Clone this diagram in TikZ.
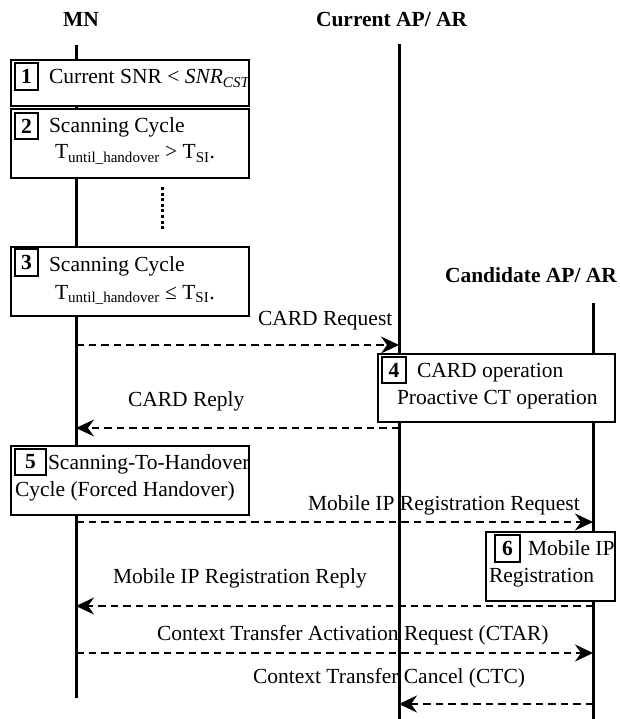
\documentclass[tikz,border=0pt]{standalone}
\usepackage{fontspec}
\setmainfont{Liberation Serif}
\usetikzlibrary{arrows.meta}
\begin{document}
\begin{tikzpicture}[x=1pt,y=-1pt,
  every node/.style={font=\fontsize{21.5}{25}\selectfont, inner sep=0pt, outer sep=0pt},
  head/.style={font=\fontsize{21.5}{25}\selectfont\bfseries, anchor=base west},
  txt/.style={anchor=base west},
  lifeline/.style={line width=3pt},
  msg/.style={line width=2pt, dash pattern=on 7.5pt off 5pt,
    -{Stealth[length=18pt,width=17pt,inset=6pt]}},
  stepbox/.style={draw, line width=1.3pt, fill=white},
  numbox/.style={draw, line width=1.6pt, fill=white,
    font=\fontsize{21.5}{25}\selectfont\bfseries},
]
\useasboundingbox (0,0) rectangle (620,719);

% entity headers
\node[head] (mn) at (63,27) {MN};
\node[head] (cur) at (316,27) {Current AP/ AR};
\node[head] (cand) at (445,282) {Candidate AP/ AR};

% message labels
\node[txt] (l1) at (258,325) {CARD Request};
\node[txt] (l2) at (128,406) {CARD Reply};
\node[txt] (l3) at (308,510) {Mobile IP Registration Request};
\node[txt] (l4) at (113,583) {Mobile IP Registration Reply};
\node[txt] (l5) at (157,640) {Context Transfer Activation Request (CTAR)};
\node[txt] (l6) at (253,683) {Context Transfer Cancel (CTC)};

% lifelines
\coordinate (mnTop) at (76,45);
\coordinate (mnBot) at (76,698);
\coordinate (curTop) at (399,44);
\coordinate (curBot) at (399,719);
\coordinate (candTop) at (593,303);
\coordinate (candBot) at (593,719);
\draw[lifeline] (mnTop) -- (mnBot);
\draw[lifeline] (curTop) -- (curBot);
\draw[lifeline] (candTop) -- (candBot);

% repeated scanning cycles
\coordinate (dotA) at (162,187);
\coordinate (dotB) at (162,230);
\draw[line width=3pt, dash pattern=on 3pt off 2.6pt] (dotA) -- (dotB);

% message end points
\coordinate (mnA) at (76,345);   \coordinate (curA) at (399,345);
\coordinate (mnB) at (76,428);   \coordinate (curB) at (399,428);
\coordinate (mnC) at (76,522);   \coordinate (candC) at (593,522);
\coordinate (mnD) at (76,606);   \coordinate (candD) at (593,606);
\coordinate (mnE) at (76,653);   \coordinate (candE) at (593,653);
\coordinate (curF) at (399,704); \coordinate (candF) at (593,704);

\draw[msg] (mnA) -- (curA);
\draw[msg] (curB) -- (mnB);
\draw[msg] (mnC) -- (candC);
\draw[msg] (candD) -- (mnD);
\draw[msg] (mnE) -- (candE);
\draw[msg] (candF) -- (curF);

% step 1
\node[stepbox, minimum width=238pt, minimum height=46pt] (b1) at (130,83) {};
\node[txt] (t1) at (49,84) {Current SNR < \textit{SNR\textsubscript{CST}}};
\draw[line width=1.3pt] (b1.north east) -- (b1.south east);
\node[numbox, minimum width=23pt, minimum height=27pt] (n1) at (26.5,76.5) {1};

% step 2
\node[stepbox, minimum width=238pt, minimum height=69pt] (b2) at (130,143.5) {};
\node[txt] (t2a) at (49,133) {Scanning Cycle};
\node[txt] (t2b) at (55,159) {T\textsubscript{until\_handover} > T\textsubscript{SI}.};
\node[numbox, minimum width=23pt, minimum height=26pt] (n2) at (26.5,126) {2};

% step 3
\node[stepbox, minimum width=238pt, minimum height=69pt] (b3) at (130,281.5) {};
\node[txt] (t3a) at (49,271) {Scanning Cycle};
\node[txt] (t3b) at (55,299) {T\textsubscript{until\_handover} ≤ T\textsubscript{SI}.};
\node[numbox, minimum width=23pt, minimum height=27pt] (n3) at (26.5,262.5) {3};

% step 4
\node[stepbox, minimum width=237pt, minimum height=68pt] (b4) at (496.5,388) {};
\node[txt] (t4a) at (417,377) {CARD operation};
\node[txt] (t4b) at (397,404) {Proactive CT operation};
\node[numbox, minimum width=24pt, minimum height=26pt] (n4) at (394,370) {4};

% step 5
\node[stepbox, minimum width=238pt, minimum height=69pt] (b5) at (130,480.5) {};
\node[txt] (t5a) at (48,469) {Scanning-To-Handover};
\node[txt] (t5b) at (15,496) {Cycle (Forced Handover)};
\node[numbox, minimum width=31pt, minimum height=26pt] (n5) at (30.5,462) {5~};

% step 6
\node[stepbox, minimum width=129pt, minimum height=69pt] (b6) at (550.5,566.5) {};
\node[txt] (t6a) at (528,555) {Mobile IP};
\node[txt] (t6b) at (489,582) {Registration};
\node[numbox, minimum width=25pt, minimum height=27pt] (n6) at (507.5,548.5) {6};
\end{tikzpicture}
\end{document}
